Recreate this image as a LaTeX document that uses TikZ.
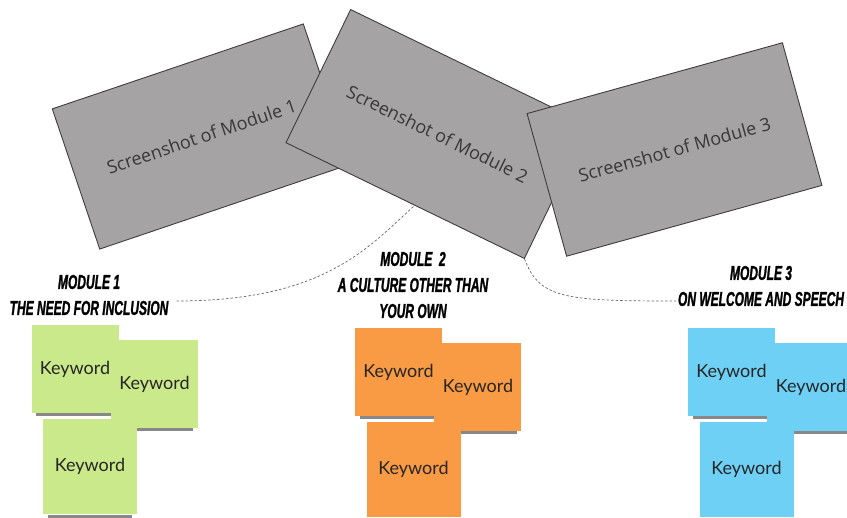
\documentclass[tikz,border=0pt]{standalone}
\usepackage{fontspec}
\setmainfont{Open Sans}
\newfontfamily\headfont{Liberation Sans}[FakeStretch=0.6, BoldItalicFeatures={FakeBold=1.2}]
\newfontfamily\notefont{Lato}
\usepackage{tikz}
\usetikzlibrary{positioning, calc}
\definecolor{shotgray}{RGB}{166,163,164}
\definecolor{shotline}{RGB}{62,60,62}
\definecolor{notegreen}{RGB}{202,233,139}
\definecolor{noteorange}{RGB}{249,155,69}
\definecolor{noteblue}{RGB}{111,208,246}

\begin{document}
\begin{tikzpicture}[x=1pt, y=1pt,
  shot/.style    = {draw=shotline, fill=shotgray, line width=0.9pt, minimum width=265pt,
                    minimum height=148pt, inner sep=0pt, text=black!78, font=\fontsize{18}{22}\selectfont},
  title/.style   = {align=center, inner sep=2pt, font=\headfont\bfseries\itshape\fontsize{20}{26}\selectfont},
  keynote/.style = {fill=#1, minimum width=87pt, minimum height=88pt, inner sep=0pt,
                    text=black!85, font=\notefont\fontsize{18}{20}\selectfont},
  big/.style     = {minimum width=94pt, minimum height=95pt},
  under/.style   = {fill=black!85, opacity=0.55},
  link/.style    = {draw=black!60, line width=0.7pt, dash pattern=on 2.5pt off 2pt}]

\useasboundingbox (0,0) rectangle (847,-518);

% screenshots of the modules, the later one lies on top
\node[shot, rotate=18.7]  (s1) at (201.5,-136.5) {Screenshot of Module 1};
\node[shot, rotate=-25.9] (s2) at (437.5,-134)   {Screenshot of Module 2};
\node[shot, rotate=15.5]  (s3) at (674.5,-149.5) {Screenshot of Module 3};

% module titles
\node[title] (t1) at (89,-295)  {MODULE 1\\THE NEED FOR INCLUSION};
\node[title] (t2) at (413,-285) {MODULE\ \ 2\\A CULTURE OTHER THAN\\YOUR OWN};
\node[title] (t3) at (761,-286) {MODULE 3\\ON WELCOME AND SPEECH};

% dotted links
\draw[link] ([xshift=6pt,yshift=-6pt]t1.east) .. controls +(150,0) and +(-45,-40) .. ($(s2.south)!0.08!(s2.south east)$);
\draw[link] (s2.south east) .. controls +(15,-40) and +(-110,0) .. ([yshift=-15pt]t3.west);

% sticky notes, three per module, each with a shadow strip
\foreach \m/\col/\x/\y in {1/notegreen/75/369, 2/noteorange/398.5/372, 3/noteblue/731.5/372}{
  \node[keynote=\col] (k\m1) at (\x,-\y) {Keyword};
  \fill[under] ([xshift=5pt]k\m1.south west) rectangle ([xshift=-5pt,yshift=-3pt]k\m1.south east);
  \node[keynote=\col, right=-8pt of k\m1, yshift=-15pt] (k\m2) {Keyword};
  \fill[under] ([xshift=5pt]k\m2.south west) rectangle ([xshift=-5pt,yshift=-3pt]k\m2.south east);
  \node[keynote=\col, big, below=6pt of k\m1, xshift=15pt] (k\m3) {Keyword};
  \fill[under] ([xshift=5pt]k\m3.south west) rectangle ([xshift=-5pt,yshift=-3pt]k\m3.south east);
}

\end{tikzpicture}
\end{document}
